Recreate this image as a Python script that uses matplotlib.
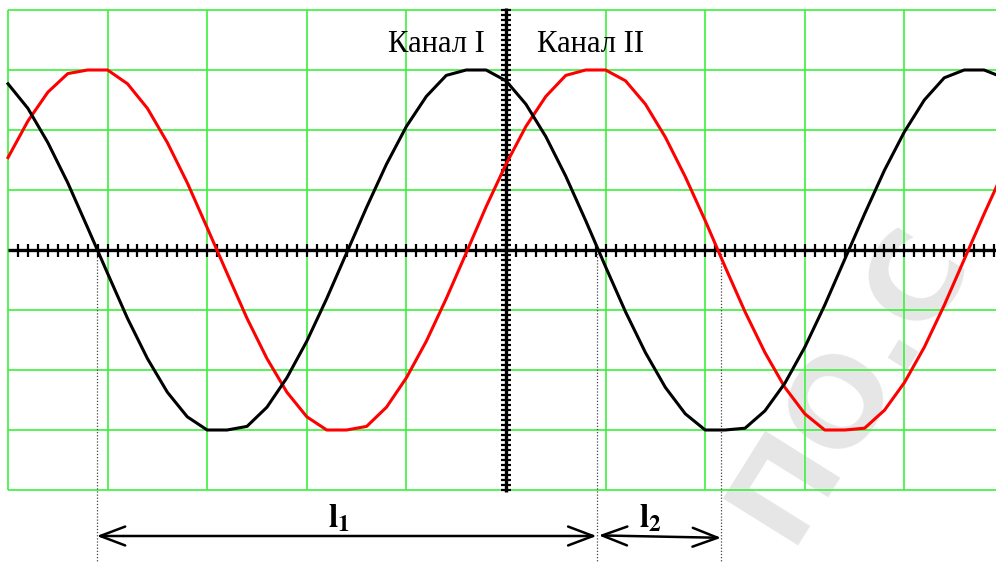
import numpy as np
import matplotlib
matplotlib.use("Agg")
import matplotlib.pyplot as plt

# screen divisions: 10 across, 8 down (4 above / 4 below the trace axis)
n_xdiv = 10
n_ydiv = 4

# sample positions along the screen, in divisions (every 0.2 div)
t_div = np.arange(0, 51) * 0.2

# channel I (black) and channel II (red) readings, in divisions
chan1 = [2.77, 2.36, 1.79, 1.12, 0.37, -0.39, -1.14, -1.81, -2.37, -2.78,
         -3.00, -3.00, -2.94, -2.62, -2.13, -1.52, -0.81, -0.05, 0.71, 1.43,
         2.06, 2.56, 2.91, 3.00, 3.00, 2.82, 2.43, 1.89, 1.23, 0.49,
         -0.28, -1.03, -1.71, -2.29, -2.73, -3.00, -3.00, -2.97, -2.68, -2.22,
         -1.62, -0.92, -0.16, 0.60, 1.33, 1.97, 2.50, 2.87, 3.00, 3.00,
         2.87]
chan2 = [1.54, 2.15, 2.63, 2.94, 3.00, 3.00, 2.77, 2.36, 1.79, 1.12,
         0.37, -0.39, -1.14, -1.81, -2.37, -2.78, -3.00, -3.00, -2.94, -2.62,
         -2.13, -1.52, -0.81, -0.05, 0.72, 1.43, 2.06, 2.56, 2.91, 3.00,
         3.00, 2.82, 2.43, 1.88, 1.22, 0.49, -0.28, -1.03, -1.71, -2.29,
         -2.73, -3.00, -3.00, -2.97, -2.67, -2.21, -1.62, -0.92, -0.16, 0.60,
         1.33]

# zero crossings used for the measured intervals
cross_a = 0.89   # channel I falling
cross_b = 5.91   # channel I falling, one period later
cross_c = 7.16   # channel II falling

labels = ["Канал I", "Канал II"]
interval_names = [r"$\mathbf{l_1}$", r"$\mathbf{l_2}$"]

plt.rcParams["mathtext.fontset"] = "stix"

fig = plt.figure(figsize=(9.96, 5.63), dpi=100)
ax = fig.add_axes([0, 0, 1, 1])
ax.set_xlim(-8 / 99.6, 988 / 99.6)
ax.set_ylim(-313 / 60, 250 / 60)
ax.axis("off")

green = "#3cf03c"
# graticule
ax.hlines(np.arange(-n_ydiv, n_ydiv + 1), 0, n_xdiv, color=green, lw=1.2, zorder=1)
ax.vlines(np.arange(0, n_xdiv + 1), -n_ydiv, n_ydiv, color=green, lw=1.2, zorder=1)

# watermark
ax.text(8.45, -2.2, "ПО.С", fontsize=88, fontweight="bold", color="#e6e6e6",
        rotation=58, ha="center", va="center", family="DejaVu Sans", zorder=0)

# centre axes with fine ticks
xt = np.arange(1, 100) * 0.1
ax.vlines(xt, -0.115, 0.1, color="black", lw=1.6, zorder=3)
ax.hlines(0, 0, 9.92, color="black", lw=2.4, zorder=3)
yt = np.arange(-48, 49) / 12
ax.hlines(yt, 5 - 0.05, 5 + 0.05, color="black", lw=1.6, zorder=3)
ax.vlines(5, -4.04, 4.04, color="black", lw=2.4, zorder=3)

# traces
ax.plot(t_div, chan2, color="#ff0000", lw=2.2, zorder=4)
ax.plot(t_div, chan1, color="black", lw=2.2, zorder=5)

ax.text(3.82, 3.3, labels[0], fontsize=22, family="Liberation Serif",
        ha="left", va="baseline", zorder=6)
ax.text(5.31, 3.3, labels[1], fontsize=22, family="Liberation Serif",
        ha="left", va="baseline", zorder=6)

# dotted markers from the zero crossings
for xc in (cross_a, cross_b, cross_c):
    ax.vlines(xc, -5.3, 0, color="#444444", lw=0.9, linestyles=(0, (1, 1.5)), zorder=2)

arrow = dict(arrowstyle="<->,head_length=0.9,head_width=0.34", color="black",
             lw=1.8, mutation_scale=20, shrinkA=0, shrinkB=0)
y_arr = (250 - 536) / 60
ax.annotate("", xy=(cross_b, y_arr), xytext=(cross_a, y_arr), arrowprops=arrow)
ax.annotate("", xy=(cross_c, y_arr - 0.03), xytext=(cross_b + 0.02, y_arr + 0.01),
            arrowprops=arrow)

ax.text((cross_a + cross_b) / 2 - 0.08, (250 - 527) / 60, interval_names[0],
        fontsize=24, ha="center", va="baseline")
ax.text((cross_b + cross_c) / 2 - 0.08, (250 - 527) / 60, interval_names[1],
        fontsize=24, ha="center", va="baseline")

fig.savefig("out.png", dpi=100)
